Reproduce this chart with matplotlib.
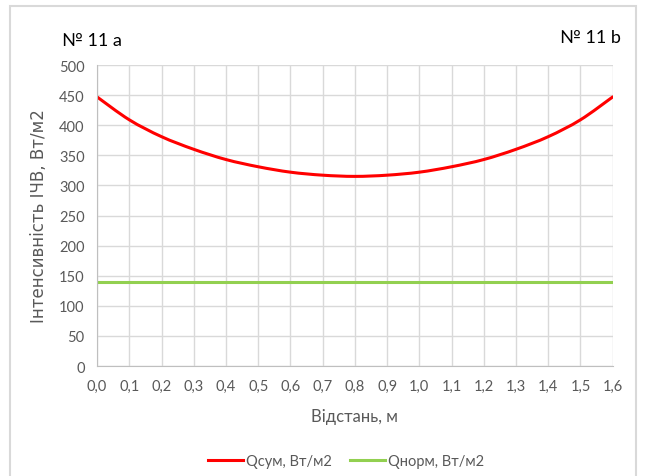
import matplotlib
matplotlib.use("Agg")
import numpy as np
import matplotlib.pyplot as plt
from matplotlib.patches import Rectangle, PathPatch
from matplotlib.path import Path
from matplotlib.ticker import FuncFormatter

plt.rcParams['font.family'] = ['Lato', 'DejaVu Sans']

distance = [0.0, 0.1, 0.2, 0.3, 0.4, 0.5, 0.6, 0.7, 0.8,
            0.9, 1.0, 1.1, 1.2, 1.3, 1.4, 1.5, 1.6]
q_sum = [447, 409, 381, 360, 343, 331, 322, 317, 315,
         317, 322, 331, 343, 360, 381, 409, 447]
q_norm = [140] * len(distance)

text_color = '#595959'
grid_color = '#d9d9d9'


def smooth_path(xs, ys):
    # Catmull-Rom through the points, written as cubic Bezier segments
    pts = np.column_stack([xs, ys]).astype(float)
    verts = [pts[0]]
    codes = [Path.MOVETO]
    n = len(pts)
    for i in range(n - 1):
        p0 = pts[max(i - 1, 0)]
        p1 = pts[i]
        p2 = pts[i + 1]
        p3 = pts[min(i + 2, n - 1)]
        c1 = p1 + (p2 - p0) / 6
        c2 = p2 - (p3 - p1) / 6
        verts += [c1, c2, p2]
        codes += [Path.CURVE4] * 3
    return Path(verts, codes)


fig = plt.figure(figsize=(6.47, 4.77), dpi=100)
ax = fig.add_axes([0.150, 0.2306, 0.797, 0.631])

ax.add_patch(PathPatch(smooth_path(distance, q_sum), fill=False,
                       edgecolor='#ff0000', lw=2.2, capstyle='round'))
ax.plot(distance, q_norm, color='#92d050', lw=2.2)

# legend handles only
ax.plot([], [], color='#ff0000', lw=2.2, label='Qсум, Вт/м2')
ax.plot([], [], color='#92d050', lw=2.2, label='Qнорм, Вт/м2')

ax.set_xlim(0, 1.6)
ax.set_ylim(0, 500)
ax.set_xticks(distance)
ax.set_yticks(range(0, 501, 50))
ax.xaxis.set_major_formatter(FuncFormatter(lambda v, p: f'{v:.1f}'.replace('.', ',')))
ax.grid(True, color=grid_color, lw=1)
ax.set_axisbelow(True)
ax.tick_params(length=0, colors=text_color, labelsize=10.5, pad=9)
for side in ['top', 'right']:
    ax.spines[side].set_visible(False)
for side in ['left', 'bottom']:
    ax.spines[side].set_color('#bfbfbf')

ax.set_xlabel('Відстань, м', color=text_color, fontsize=12, labelpad=11)
ax.set_ylabel('Інтенсивність ІЧВ, Вт/м2', color=text_color, fontsize=12,
              family=['DejaVu Sans'], labelpad=8)

fig.text(0.096, 0.915, '№ 11 a', fontsize=13, color='black', va='center')
fig.text(0.960, 0.920, '№ 11 b', fontsize=13, color='black', va='center', ha='right')

fig.legend(loc='center', bbox_to_anchor=(0.535, 0.032), ncol=2, frameon=False,
           fontsize=10.5, labelcolor=text_color, handlelength=2.4,
           columnspacing=1.2, handletextpad=0.2)

fig.patches.append(Rectangle((0.016, -0.01), 0.967, 0.995, transform=fig.transFigure,
                             fill=False, edgecolor='#d9d9d9', lw=1.5))

fig.savefig('out.png', dpi=100)
